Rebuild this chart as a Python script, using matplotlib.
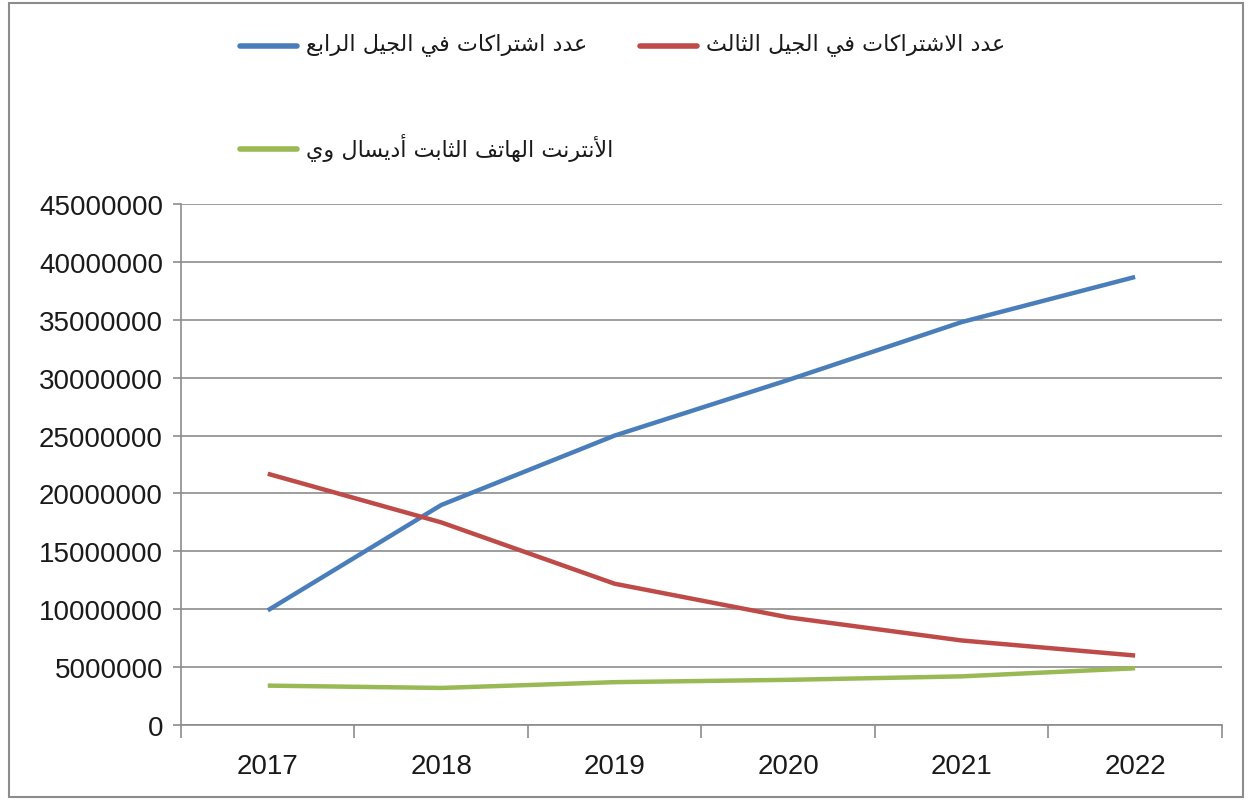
import matplotlib
matplotlib.use("Agg")
import matplotlib.pyplot as plt
from matplotlib.lines import Line2D
from matplotlib.patches import Rectangle

years = ["2017", "2018", "2019", "2020", "2021", "2022"]
subs_4g = [9900000, 19000000, 25000000, 29800000, 34800000, 38700000]
subs_3g = [21700000, 17500000, 12200000, 9300000, 7300000, 6000000]
adsl = [3400000, 3200000, 3700000, 3900000, 4200000, 4900000]

label_4g = "عدد اشتراكات في الجيل الرابع"
label_3g = "عدد الاشتراكات في الجيل الثالث"
label_adsl = "الأنترنت الهاتف الثابت أديسال وي"

# presentation forms: (isolated base, dual joining?)
FORMS = {
    'ا': (0xFE8D, False), 'أ': (0xFE83, False), 'ب': (0xFE8F, True),
    'ت': (0xFE95, True), 'ث': (0xFE99, True), 'ج': (0xFE9D, True),
    'د': (0xFEA9, False), 'ر': (0xFEAD, False), 'س': (0xFEB1, True),
    'ش': (0xFEB5, True), 'ع': (0xFEC9, True), 'ف': (0xFED1, True),
    'ك': (0xFED9, True), 'ل': (0xFEDD, True), 'ن': (0xFEE5, True),
    'ه': (0xFEE9, True), 'و': (0xFEED, False), 'ي': (0xFEF1, True),
}
LAM_ALEF = {'ا': (0xFEFB, 0xFEFC), 'أ': (0xFEF7, 0xFEF8)}


def shape(text):
    # join letters into contextual forms, then reverse for left-to-right drawing
    chars = []
    i = 0
    while i < len(text):
        c = text[i]
        if c == 'ل' and i + 1 < len(text) and text[i + 1] in LAM_ALEF:
            chars.append(('LA', text[i + 1]))
            i += 2
        else:
            chars.append(('C', c))
            i += 1
    out = []
    for k, (kind, c) in enumerate(chars):
        prev = chars[k - 1] if k > 0 else None
        nxt = chars[k + 1] if k + 1 < len(chars) else None
        joins_prev = (prev is not None and prev[0] == 'C' and prev[1] in FORMS
                      and FORMS[prev[1]][1])
        if kind == 'LA':
            iso, fin = LAM_ALEF[c]
            out.append(chr(fin if joins_prev else iso))
            continue
        if c not in FORMS:
            out.append(c)
            continue
        base, dual = FORMS[c]
        joins_next = dual and nxt is not None and (nxt[0] == 'LA' or nxt[1] in FORMS)
        if joins_prev and joins_next:
            out.append(chr(base + 3))
        elif joins_prev:
            out.append(chr(base + 1))
        elif joins_next:
            out.append(chr(base + 2))
        else:
            out.append(chr(base))
    return ''.join(reversed(out))


plt.rcParams['font.family'] = ['Liberation Sans', 'DejaVu Sans']

fig = plt.figure(figsize=(12.51, 8.03), dpi=100)
fig.add_artist(Rectangle((0.007, 0.006), 0.987, 0.989, transform=fig.transFigure,
                         fill=False, edgecolor='#8c8c8c', linewidth=1.5))

ax = fig.add_axes([0.1447, 0.0959, 0.832, 0.6488])
x = range(len(years))
c4, c3, cadsl = '#4a7ebb', '#be4b48', '#98b954'
ax.plot(x, subs_4g, color=c4, linewidth=3.2, solid_capstyle='butt')
ax.plot(x, subs_3g, color=c3, linewidth=3.2, solid_capstyle='butt')
ax.plot(x, adsl, color=cadsl, linewidth=3.2, solid_capstyle='butt')

ax.set_xlim(-0.5, 5.5)
ax.set_ylim(0, 45000000)
ax.set_yticks(range(0, 45000001, 5000000))
ax.set_yticklabels([str(v) for v in range(0, 45000001, 5000000)])
ax.set_xticks(list(x))
ax.set_xticklabels(years)
ax.set_xticks([i - 0.5 for i in range(len(years) + 1)], minor=True)
ax.tick_params(axis='x', which='major', length=0, pad=20, labelsize=20, labelcolor='#1a1a1a')
ax.tick_params(axis='x', which='minor', length=9, width=1.2, color='#8c8c8c')
ax.tick_params(axis='y', length=6, width=1.2, color='#8c8c8c', pad=7, labelsize=20,
               labelcolor='#1a1a1a')
ax.yaxis.grid(True, color='#8c8c8c', linewidth=1.2)
ax.set_axisbelow(True)
for s in ['top', 'right']:
    ax.spines[s].set_visible(False)
for s in ['left', 'bottom']:
    ax.spines[s].set_color('#8c8c8c')
    ax.spines[s].set_linewidth(1.2)

# legend drawn by hand, Excel-like layout
W, H = 1251.0, 803.0
entries = [
    (c4, label_4g, 240, 297, 47),
    (c3, label_3g, 640, 697, 47),
    (cadsl, label_adsl, 240, 297, 150),
]
for col, lab, x0, x1, yy in entries:
    fig.add_artist(Line2D([x0 / W, x1 / W], [1 - yy / H, 1 - yy / H], transform=fig.transFigure,
                          color=col, linewidth=4, solid_capstyle='round'))
    fig.text((x1 + 9) / W, 1 - (yy - 2) / H, shape(lab), family='DejaVu Sans',
             fontsize=16, va='center', ha='left', color='#1a1a1a')

fig.savefig('out.png', dpi=100)
